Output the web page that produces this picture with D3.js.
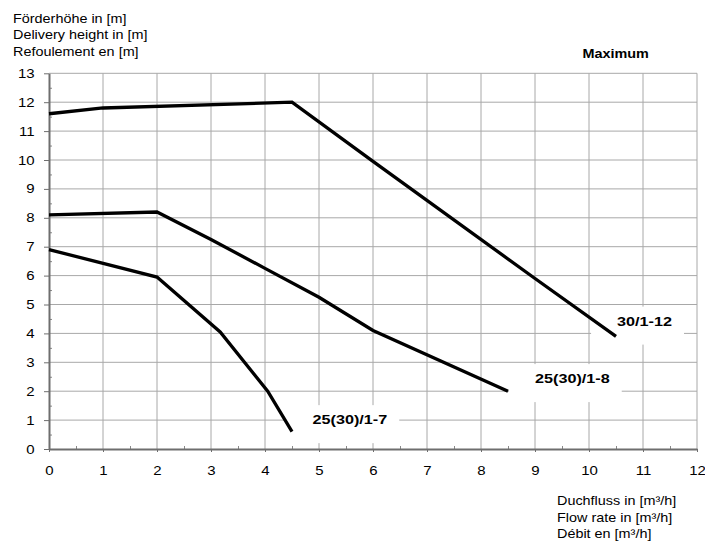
<!DOCTYPE html>
<html>
<head>
<meta charset="utf-8">
<script src="https://cdn.jsdelivr.net/npm/d3@7"></script>
<style>
  body { margin: 0; background: #fff; }
  svg { display: block; font-family: "Liberation Sans", Arial, sans-serif; }
</style>
</head>
<body>
<div id="chart"></div>
<script>
// tick values
var flowTicks = [0, 1, 2, 3, 4, 5, 6, 7, 8, 9, 10, 11, 12];
var headTicks = [0, 1, 2, 3, 4, 5, 6, 7, 8, 9, 10, 11, 12, 13];

// pump curves: flow [m3/h] / head [m]
var flow_30_1_12 = [0, 1, 4.5, 6, 9, 10.5];
var head_30_1_12 = [11.6, 11.8, 12.0, 9.95, 5.9, 3.9];

var flow_25_1_8 = [0, 2, 3, 4, 5, 6, 8.5];
var head_25_1_8 = [8.1, 8.2, 7.25, 6.25, 5.25, 4.1, 2.0];

var flow_25_1_7 = [0, 2, 3.17, 4.05, 4.5];
var head_25_1_7 = [6.9, 5.95, 4.05, 2.0, 0.6];

var curveNames = ["30/1-12", "25(30)/1-8", "25(30)/1-7"];
// label anchor (left/baseline) in data units
var labelFlow = [10.52, 9.0, 4.88];
var labelHead = [4.27, 2.28, 0.86];

var yTitle = ["Förderhöhe in [m]", "Delivery height in [m]", "Refoulement en [m]"];
var xTitle = ["Duchfluss in [m³/h]", "Flow rate in [m³/h]", "Débit en [m³/h]"];

var W = 705, H = 547, SX = 1.2;

var svg = d3.select("#chart").append("svg")
    .attr("width", W)
    .attr("height", H);

var x = d3.scaleLinear().domain([0, 12]).range([49, 697]);
var y = d3.scaleLinear().domain([0, 13]).range([449, 73.3]);

function label(g, x0, y0, s, anchor, size, weight) {
  return g.append("text")
      .attr("transform", "translate(" + x0 + "," + y0 + ") scale(" + SX + ",1)")
      .attr("text-anchor", anchor || "start")
      .style("font-size", (size || 12) + "px")
      .style("font-weight", weight || "normal")
      .style("fill", "#000")
      .text(s);
}

// grid
svg.append("g").selectAll("line")
    .data(flowTicks.slice(1))
  .enter().append("line")
    .attr("x1", function(d) { return x(d); })
    .attr("x2", function(d) { return x(d); })
    .attr("y1", y(13))
    .attr("y2", y(0))
    .style("stroke", "#a8a8a8")
    .style("stroke-width", 1);

svg.append("g").selectAll("line")
    .data(headTicks.slice(1))
  .enter().append("line")
    .attr("x1", x(0))
    .attr("x2", x(12))
    .attr("y1", function(d) { return y(d); })
    .attr("y2", function(d) { return y(d); })
    .style("stroke", "#a8a8a8")
    .style("stroke-width", 1);

// white boxes behind the curve labels (under the curves)
var boxes = svg.append("g");

// minor ticks (inside)
svg.append("g")
    .attr("transform", "translate(" + x(0) + ",0)")
    .call(d3.axisLeft(y).tickValues(d3.range(0.5, 13, 1)).tickSize(-3).tickFormat(""))
    .call(function(g) { g.select(".domain").remove(); g.selectAll("line").style("stroke", "#888"); });

svg.append("g")
    .attr("transform", "translate(0," + y(0) + ")")
    .call(d3.axisBottom(x).tickValues(d3.range(0.5, 12, 1)).tickSize(-3).tickFormat(""))
    .call(function(g) { g.select(".domain").remove(); g.selectAll("line").style("stroke", "#888"); });

// axes
var yAxis = svg.append("g")
    .attr("transform", "translate(" + x(0) + ",0)")
    .call(d3.axisLeft(y).tickValues(headTicks).tickSize(5).tickSizeOuter(0).tickPadding(7));

var xAxis = svg.append("g")
    .attr("transform", "translate(0," + y(0) + ")")
    .call(d3.axisBottom(x).tickValues(flowTicks).tickSize(3).tickSizeOuter(0).tickPadding(14));

[yAxis, xAxis].forEach(function(g) {
  g.select(".domain").style("stroke", "#6e6e6e").style("stroke-width", 2);
  g.selectAll(".tick line").style("stroke", "#6e6e6e");
  g.selectAll(".tick text")
      .style("font-size", "12.5px")
      .style("font-family", "'Liberation Sans', Arial, sans-serif")
      .style("fill", "#000");
});
yAxis.selectAll(".tick text").attr("transform", "scale(" + SX + ",1)").attr("x", -12);
xAxis.selectAll(".tick text").attr("transform", "scale(" + SX + ",1)");

// curves
var series = [
  d3.zip(flow_30_1_12, head_30_1_12),
  d3.zip(flow_25_1_8, head_25_1_8),
  d3.zip(flow_25_1_7, head_25_1_7)
];

var line = d3.line()
    .x(function(d) { return x(d[0]); })
    .y(function(d) { return y(d[1]); });

svg.append("g").selectAll("path")
    .data(series)
  .enter().append("path")
    .attr("d", line)
    .style("fill", "none")
    .style("stroke", "#000")
    .style("stroke-width", 3.3)
    .style("stroke-linejoin", "miter");

// curve labels
var labels = svg.append("g");
curveNames.forEach(function(name, i) {
  var lx = x(labelFlow[i]), ly = y(labelHead[i]);
  var t = label(labels, lx, ly, name, "start", 13.5, "bold");
  var b = t.node().getBBox();
  boxes.append("rect")
      .attr("x", lx - 26)
      .attr("y", ly - 19)
      .attr("width", b.width * SX + 38)
      .attr("height", 38)
      .style("fill", "#fff");
});

// titles
var titles = svg.append("g");
yTitle.forEach(function(s, i) { label(titles, 13, 23 + i * 16.3, s); });
xTitle.forEach(function(s, i) { label(titles, 557, 505.3 + i * 16.3, s); });
label(titles, 582.5, 58, "Maximum", "start", 12, "bold");
</script>
</body>
</html>
